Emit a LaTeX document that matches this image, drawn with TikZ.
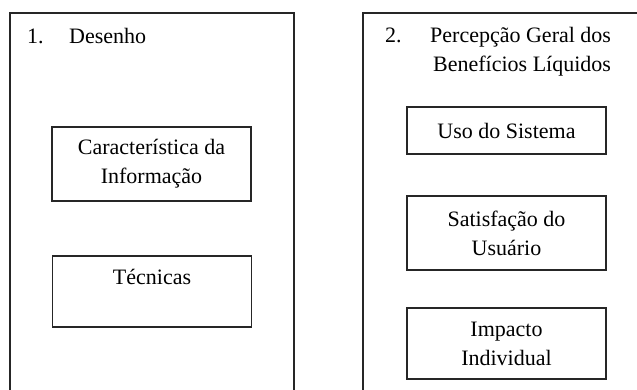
\documentclass[tikz,border=0pt]{standalone}
\usepackage{fontspec}
\setmainfont{Liberation Serif}
\begin{document}
\begin{tikzpicture}[x=1pt,y=-1pt,
  frame/.style={draw=black!85, line width=1.6pt},
  box/.style={draw=black!85, line width=1.6pt, minimum width=199pt, inner sep=0pt, align=center, font=\fontsize{22}{29}\selectfont},
  lbl/.style={anchor=base west, inner sep=0pt, font=\fontsize{22}{29}\selectfont}]
\useasboundingbox (0,0) rectangle (637,389);
\clip (0,0) rectangle (637,389);
% outer frames (continue past the bottom / right edge)
\draw[frame] (10,400) -- (10,13) -- (294,13) -- (294,400);
\draw[frame] (363,400) -- (363,13) -- (650,13);
% titles
\node[lbl] (n1) at (27,43) {1.};
\node[lbl] (t1) at (69,43) {Desenho};
\node[lbl] (n2) at (385,42) {2.};
\node[lbl] (t2a) at (430,42) {Percepção Geral dos};
\node[lbl] (t2b) at (433,71) {Benefícios Líquidos};
% left inner boxes
\node[box, minimum height=74pt] (car) at (151.5,164) {Característica da\\Informação};
\node[box, minimum height=71pt] (tec) at (152,291.5) {Técnicas\\\phantom{X}};
% right inner boxes
\node[box, minimum height=47pt] (uso) at (506.5,130.5) {Uso do Sistema};
\node[box, minimum height=74pt] (sat) at (506.5,233) {Satisfação do\\Usuário};
\node[box, minimum height=71pt] (imp) at (506.5,343.5) {Impacto\\Individual};
\end{tikzpicture}
\end{document}
